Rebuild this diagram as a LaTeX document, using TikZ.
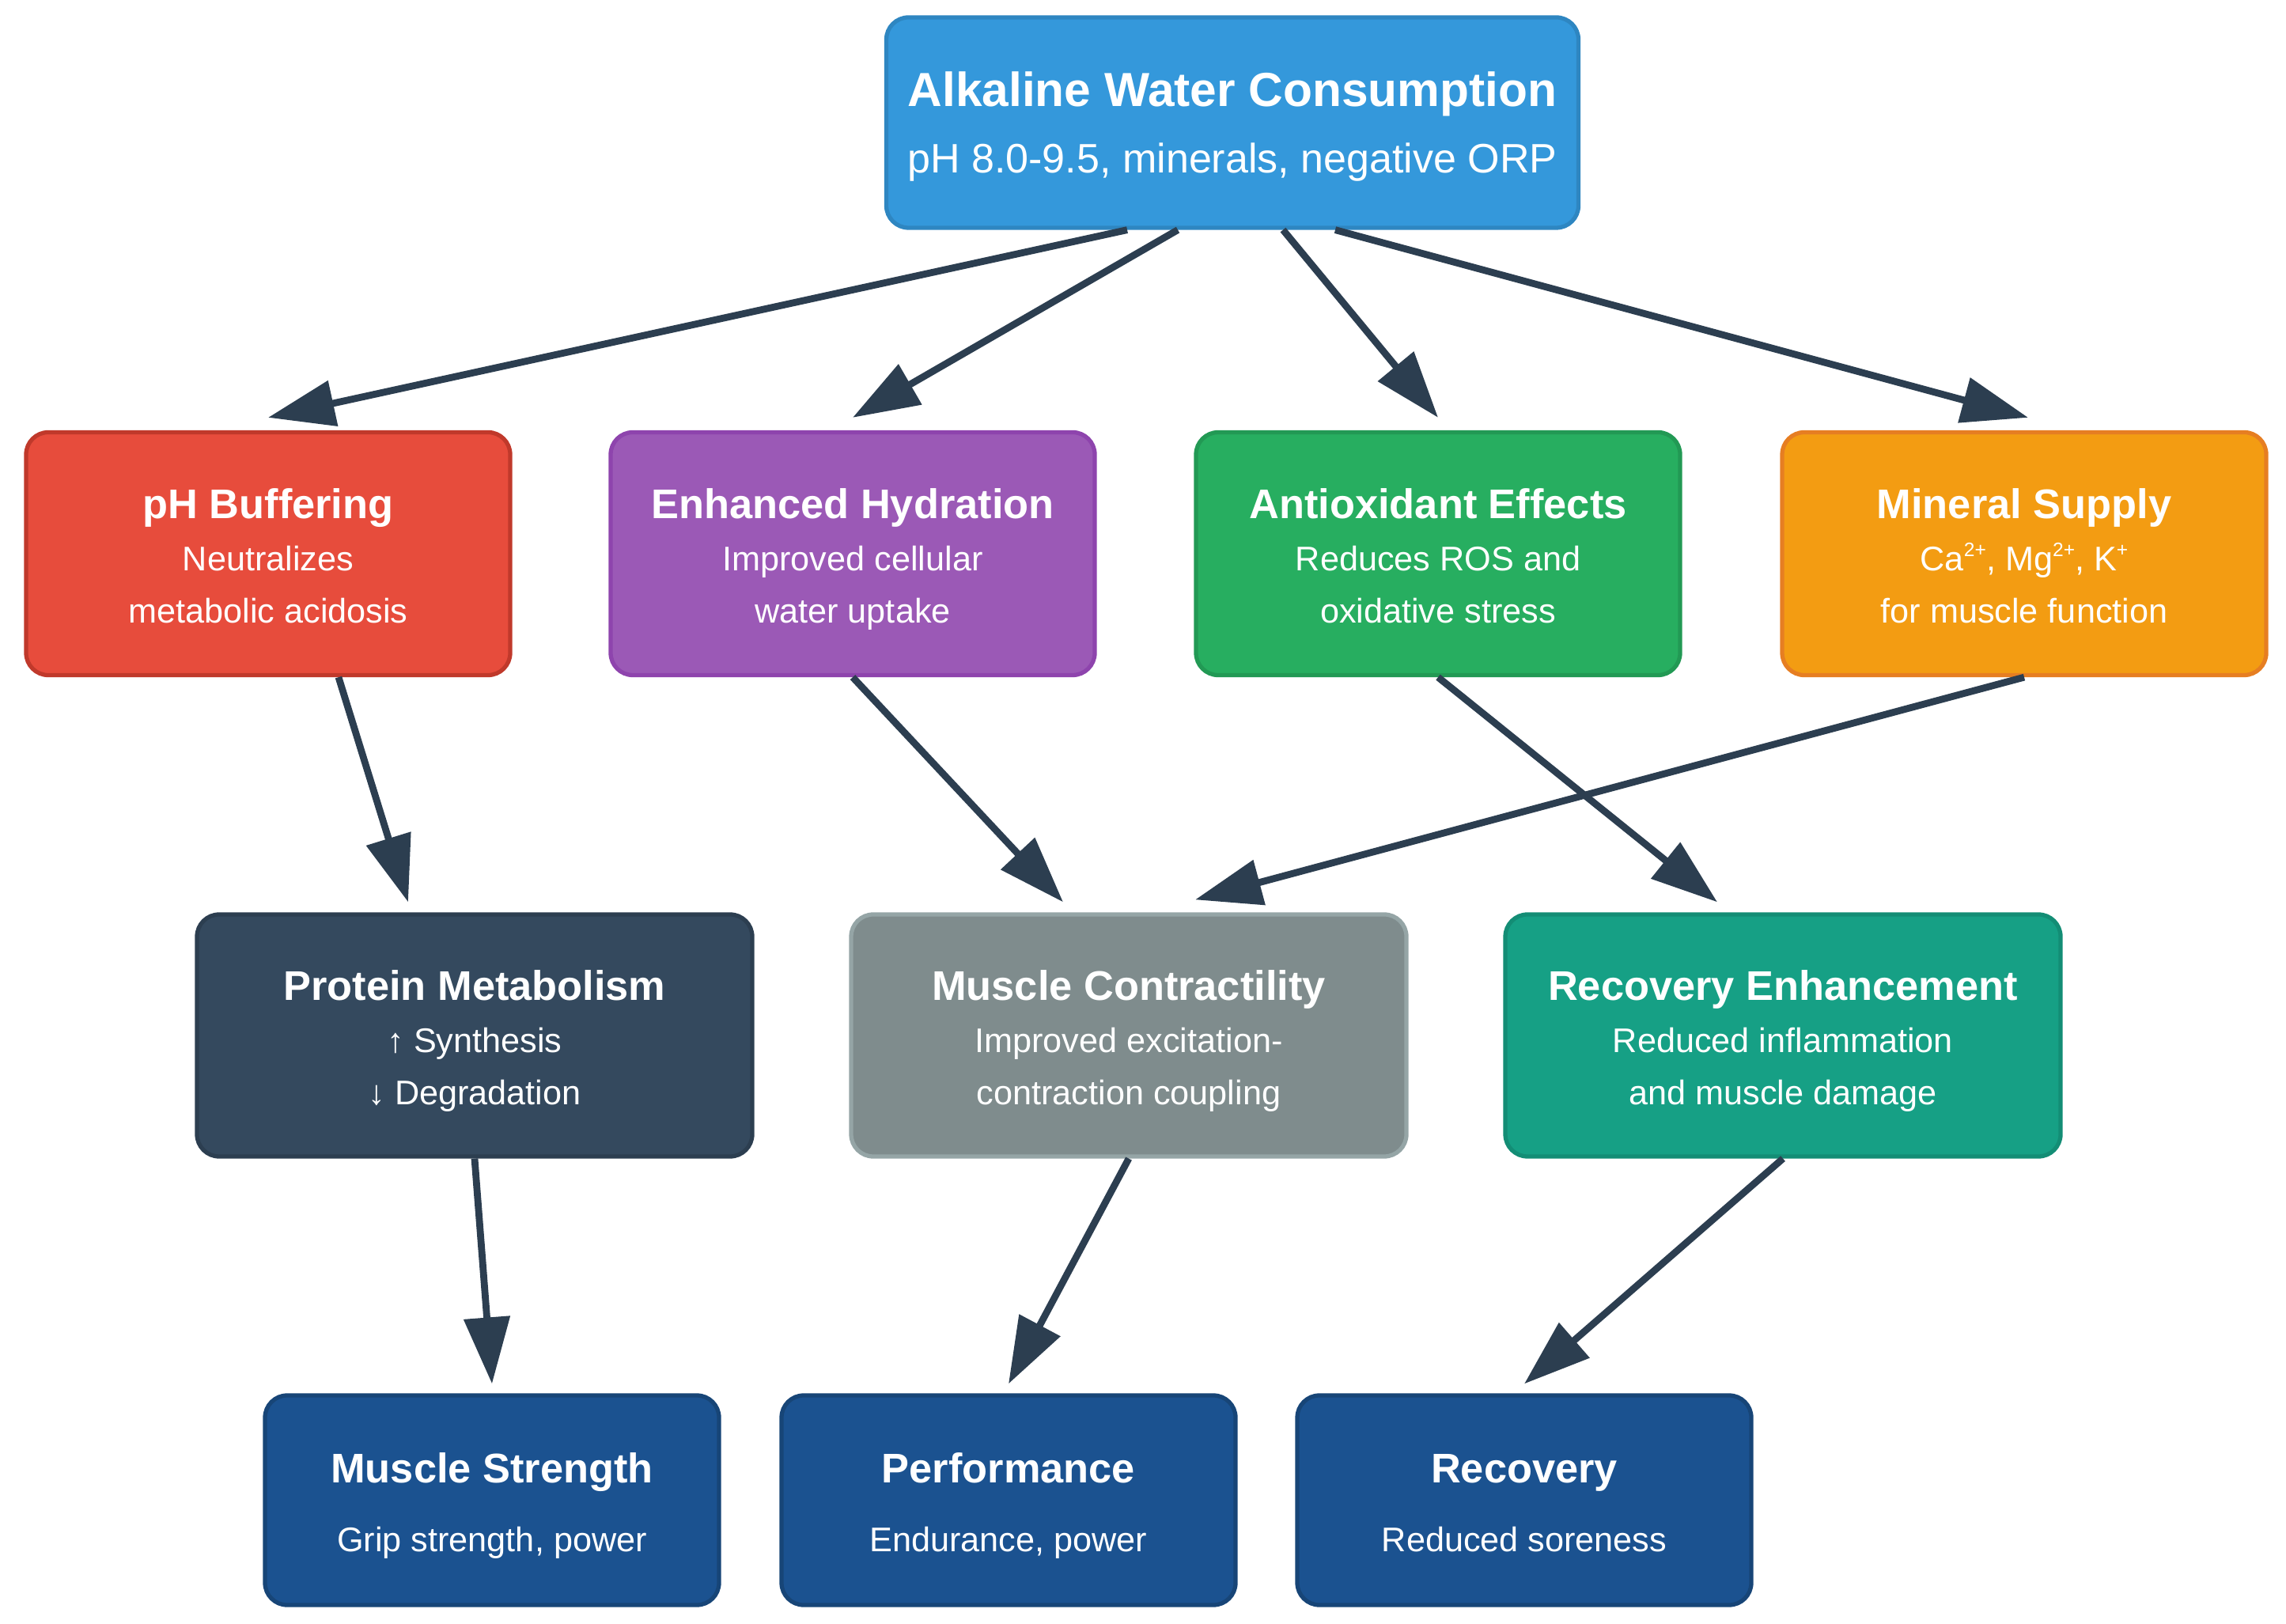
\documentclass[tikz,border=0pt]{standalone}
\usepackage{fontspec}
\setmainfont{Liberation Sans}
\usetikzlibrary{arrows.meta}

\definecolor{watblue}{HTML}{3498DB}
\definecolor{watblueln}{HTML}{2E86C1}
\definecolor{phred}{HTML}{E74C3C}
\definecolor{phredln}{HTML}{C0392B}
\definecolor{hydpurple}{HTML}{9B59B6}
\definecolor{hydpurpleln}{HTML}{8E44AD}
\definecolor{antgreen}{HTML}{27AE60}
\definecolor{antgreenln}{HTML}{229954}
\definecolor{minorange}{HTML}{F39C12}
\definecolor{minorangeln}{HTML}{E67E22}
\definecolor{protdark}{HTML}{34495E}
\definecolor{protdarkln}{HTML}{2C3E50}
\definecolor{congray}{HTML}{7F8C8D}
\definecolor{congrayln}{HTML}{95A5A6}
\definecolor{recteal}{HTML}{16A085}
\definecolor{rectealln}{HTML}{138D75}
\definecolor{outblue}{HTML}{1B5290}
\definecolor{outblueln}{HTML}{174577}
\definecolor{arrowc}{HTML}{2C3E50}

\newcommand{\boxtitle}[1]{{\rule{0pt}{15.3pt}\bfseries\fontsize{14.9}{18.8}\selectfont #1}}
\newcommand{\bottomgap}{\rule[-3pt]{0pt}{0pt}}
\newcommand{\ioncharge}[1]{\raisebox{0.42em}{\fontsize{7}{7}\selectfont #1}}

\begin{document}
\begin{tikzpicture}[>={Triangle[length=0.84cm, width=0.57cm]},
    box/.style={rounded corners=0.28cm, minimum width=6.12cm, minimum height=3.07cm, inner sep=0pt,
        line width=1.5pt, text=white, align=center, font=\fontsize{12.3}{18.8}\selectfont},
    mid/.style={minimum width=7.02cm, minimum height=3.06cm},
    low/.style={minimum width=5.74cm, minimum height=2.65cm},
    link/.style={->, draw=arrowc, line width=2.5pt}]
            \useasboundingbox (0, 0) rectangle (28.9, 20.52);
            \node[box, minimum width=8.75cm, minimum height=2.66cm, fill=watblue, draw=watblueln,
                font=\fontsize{14.8}{18}\selectfont] (water) at (15.58, 18.97)
                {{\rule{0pt}{15.3pt}\bfseries\fontsize{17.2}{20}\selectfont Alkaline Water Consumption}\\[6pt]pH 8.0-9.5, minerals, negative ORP\bottomgap};
            \node[box, fill=phred, draw=phredln] (ph) at (3.39, 13.52) {\boxtitle{pH Buffering}\\Neutralizes\\metabolic acidosis\bottomgap};
            \node[box, fill=hydpurple, draw=hydpurpleln] (hydration) at (10.78, 13.52) {\boxtitle{Enhanced Hydration}\\Improved cellular\\water uptake\bottomgap};
            \node[box, fill=antgreen, draw=antgreenln] (antiox) at (18.18, 13.52) {\boxtitle{Antioxidant Effects}\\Reduces ROS and\\oxidative stress\bottomgap};
            \node[box, fill=minorange, draw=minorangeln] (mineral) at (25.59, 13.52) {\boxtitle{Mineral Supply}\\Ca\ioncharge{2+}, Mg\ioncharge{2+}, K\ioncharge{+}\\for muscle function\bottomgap};
            \node[box, mid, fill=protdark, draw=protdarkln] (protein) at (6.00, 7.43) {\boxtitle{Protein Metabolism}\\\smash{↑} Synthesis\\\smash{↓} Degradation\bottomgap};
            \node[box, mid, fill=congray, draw=congrayln] (contract) at (14.27, 7.43) {\boxtitle{Muscle Contractility}\\Improved excitation-\\contraction coupling\bottomgap};
            \node[box, mid, fill=recteal, draw=rectealln] (recovenh) at (22.54, 7.43) {\boxtitle{Recovery Enhancement}\\Reduced inflammation\\and muscle damage\bottomgap};
            \node[box, low, fill=outblue, draw=outblueln] (strength) at (6.22, 1.555) {\boxtitle{Muscle Strength}\\[6pt]Grip strength, power\bottomgap};
            \node[box, low, fill=outblue, draw=outblueln] (perform) at (12.75, 1.555) {\boxtitle{Performance}\\[6pt]Endurance, power\bottomgap};
            \node[box, low, fill=outblue, draw=outblueln] (recovery) at (19.27, 1.555) {\boxtitle{Recovery}\\[6pt]Reduced soreness\bottomgap};
            \draw[link] ([xshift=-1.33cm]water.south) -- ([yshift=0.16cm]ph.north);
            \draw[link] ([xshift=-0.69cm]water.south) -- ([yshift=0.16cm]hydration.north);
            \draw[link] ([xshift=0.64cm]water.south) -- ([yshift=0.16cm]antiox.north);
            \draw[link] ([xshift=1.30cm]water.south) -- ([xshift=0.05cm, yshift=0.16cm]mineral.north);
            \draw[link] ([xshift=0.89cm]ph.south) -- ([xshift=-0.84cm, yshift=0.13cm]protein.north);
            \draw[link] (hydration.south) -- ([xshift=-0.83cm, yshift=0.13cm]contract.north);
            \draw[link] (antiox.south) -- ([xshift=-0.83cm, yshift=0.13cm]recovenh.north);
            \draw[link] (mineral.south) -- ([xshift=0.84cm, yshift=0.16cm]contract.north);
            \draw[link] (protein.south) -- ([yshift=0.12cm]strength.north);
            \draw[link] (contract.south) -- ([yshift=0.12cm]perform.north);
            \draw[link] (recovenh.south) -- ([yshift=0.12cm]recovery.north);
\end{tikzpicture}
\end{document}
